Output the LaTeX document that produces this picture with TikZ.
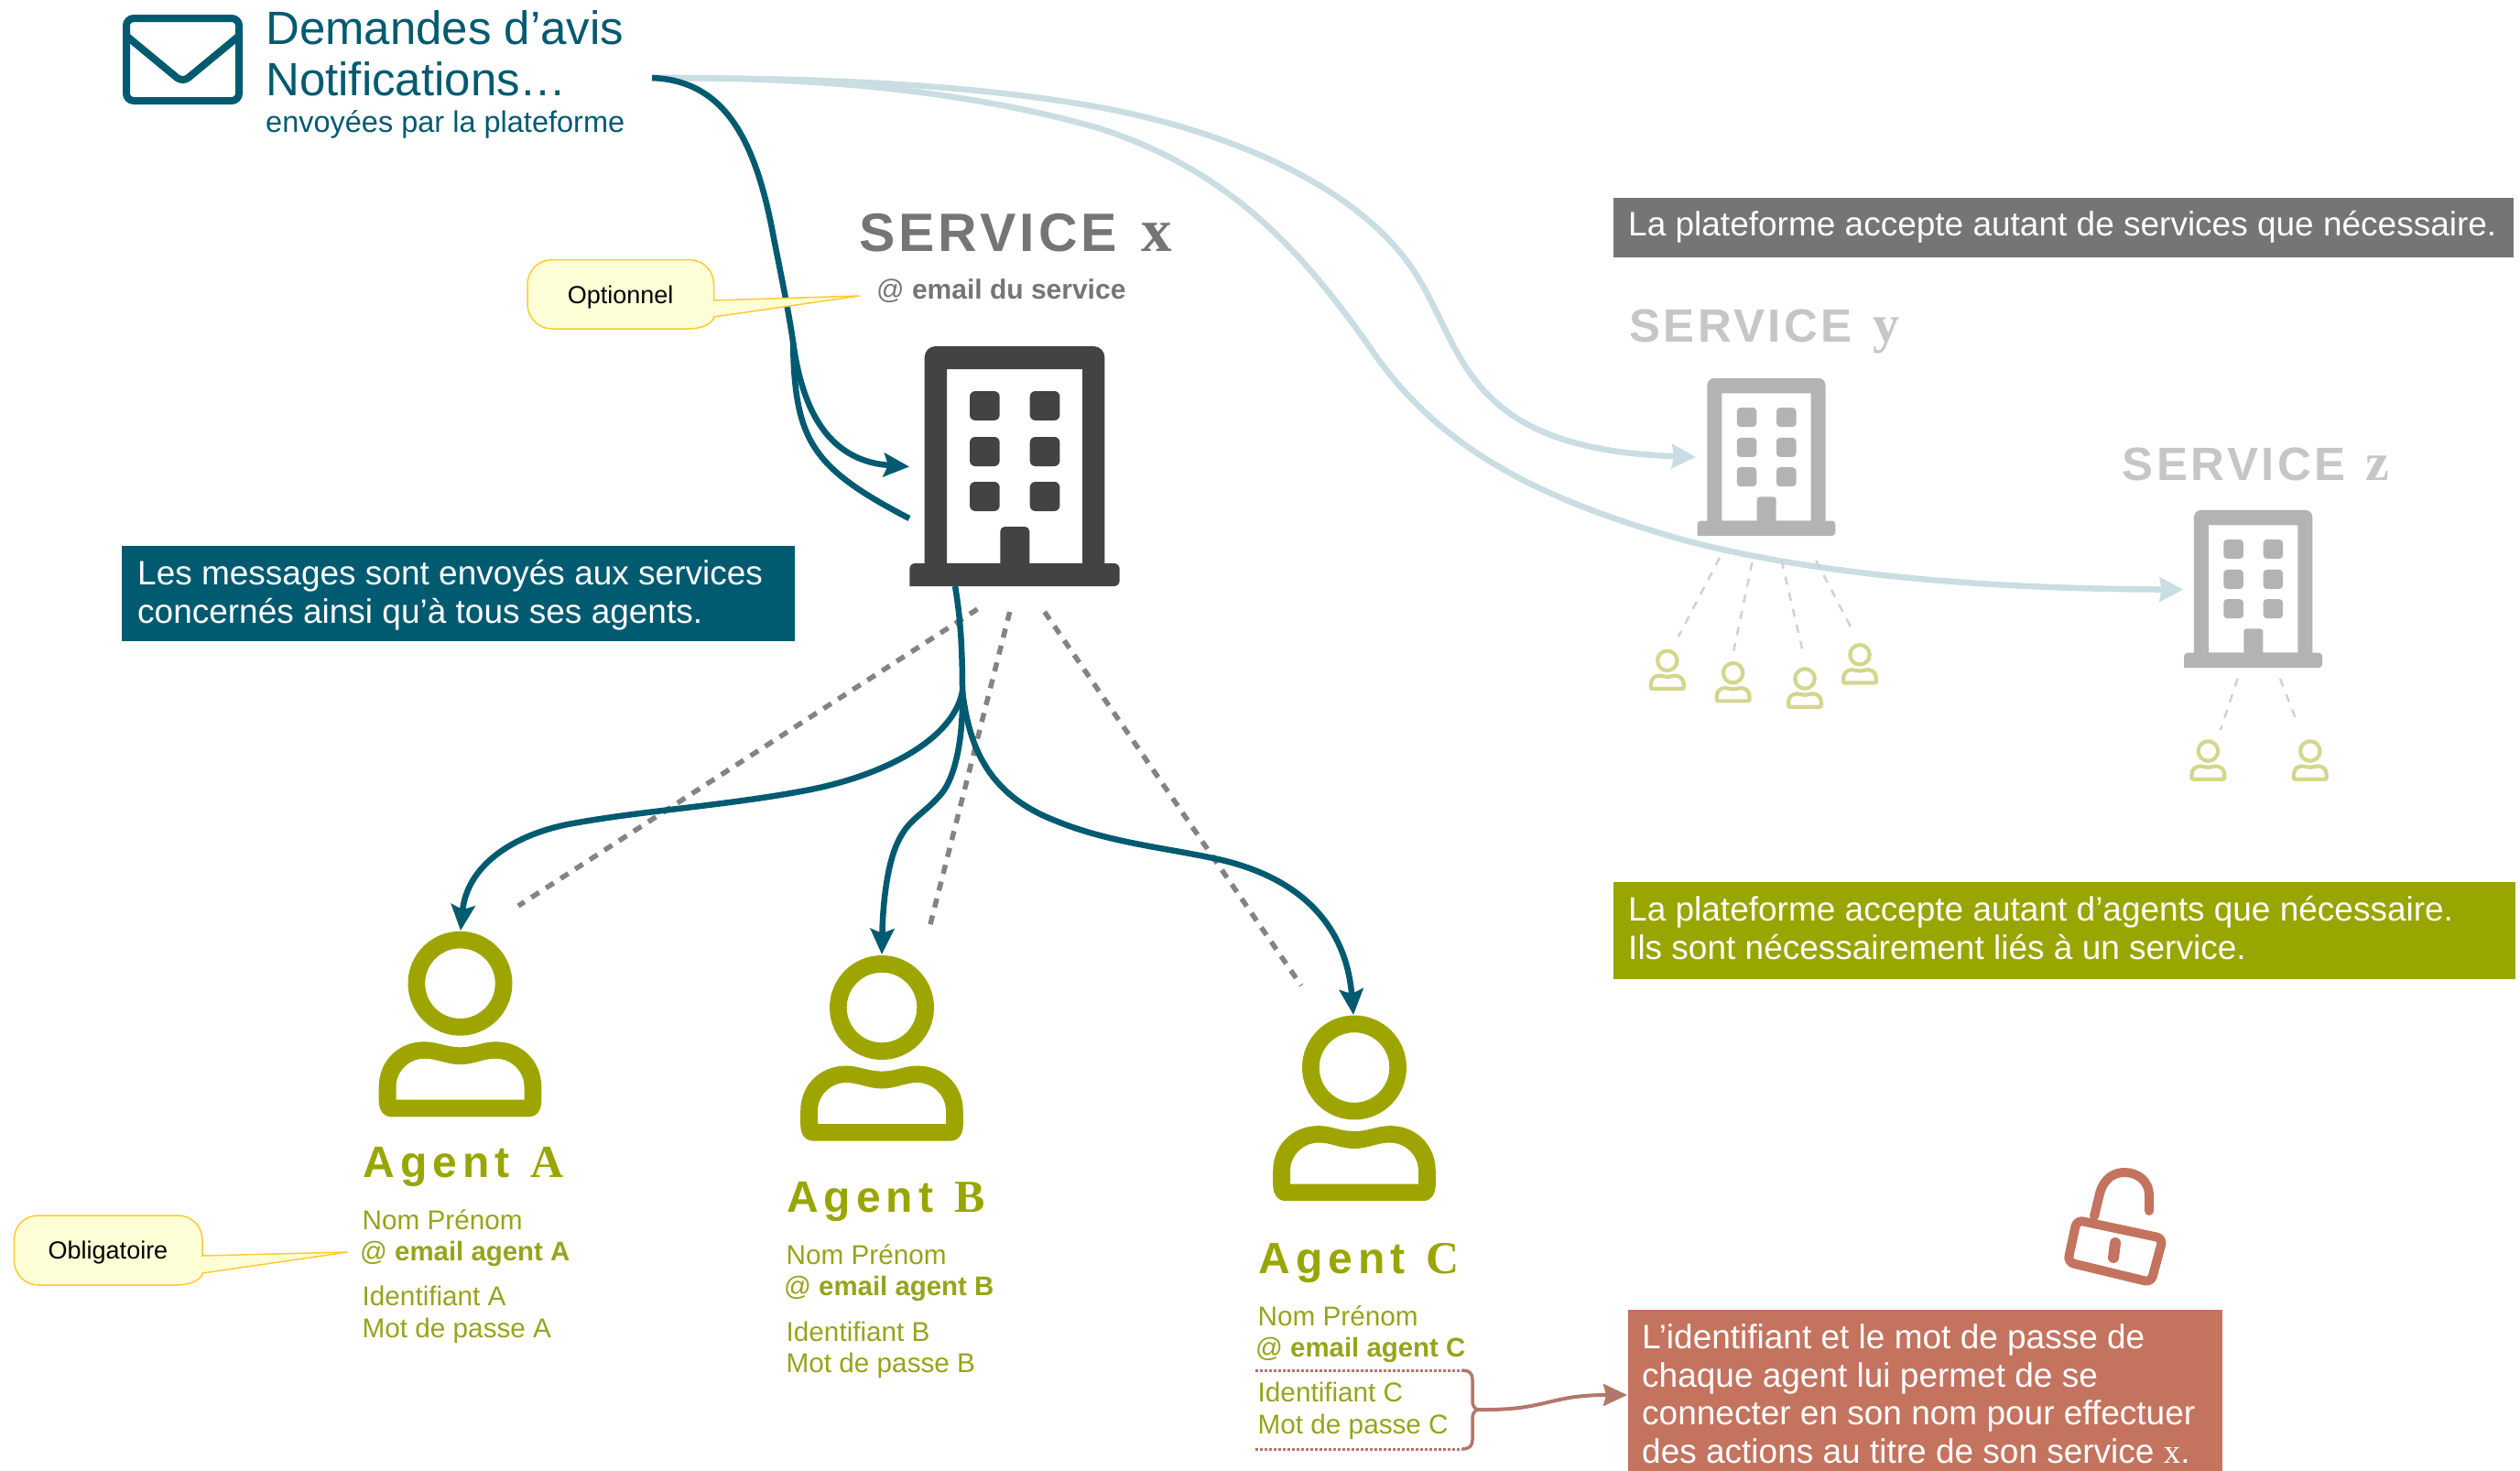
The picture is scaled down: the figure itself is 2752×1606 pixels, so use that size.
\documentclass[tikz,border=0pt]{standalone}
\usepackage{fontspec}
\usetikzlibrary{arrows.meta}
\setmainfont{Liberation Sans}
\newfontfamily\serifx{Liberation Serif}
\newfontfamily\spacedservice[LetterSpace=6.8]{Liberation Sans}
\newfontfamily\spacedagent[LetterSpace=12.5]{Liberation Sans}
\definecolor{teal1}{HTML}{005A70}
\definecolor{paleteal}{HTML}{C9DDE2}
\definecolor{graybox}{HTML}{757575}
\definecolor{darkbldg}{HTML}{434343}
\definecolor{palebldg}{HTML}{B3B3B3}
\definecolor{paletext}{HTML}{C6C6C6}
\definecolor{olivebox}{HTML}{99A500}
\definecolor{oliveicon}{HTML}{9FA500}
\definecolor{olivetext}{HTML}{97A31A}
\definecolor{paleolive}{HTML}{D3D68C}
\definecolor{salmon}{HTML}{C4735F}
\definecolor{bracecol}{HTML}{B4766A}
\definecolor{bubblefill}{HTML}{FFFFD7}
\definecolor{bubbleline}{HTML}{FFC933}
\newcommand{\fs}[1]{\fontsize{#1}{#1}\selectfont}
\newcommand{\buildingicon}[6]{%
\begin{scope}[shift={(#2,#3)},xscale=#4,yscale=#5]
\coordinate (#1) at (0,0);
\fill[#6,even odd rule,rounded corners=12*#4] (-98.3,-5) -- (-98.3,-262) -- (98.3,-262) -- (98.3,-5) -- cycle [sharp corners] (-74,-25) rectangle (74,-237);
\fill[#6,rounded corners=6*#4] (-114.7,0) -- (-114.7,-25) -- (114.7,-25) -- (114.7,0) [sharp corners] -- cycle;
\foreach \wx in {-49,16.7}{\foreach \wy in {-213,-163,-114}{%
\fill[#6,rounded corners=6*#4] (\wx,\wy) rectangle (\wx+32.7,\wy+32);}}
\fill[#6,rounded corners=5*#4] (-15.7,-20) -- (-15.7,-65) -- (16.3,-65) -- (16.3,-20) -- cycle;
\end{scope}}
\newcommand{\personicon}[5]{%
\begin{scope}[shift={(#2,#3)},scale=#4]
\coordinate (#1) at (0,0);
\fill[#5,even odd rule] (0,0) circle[radius=57] (0,0) circle[radius=38.3];
\fill[#5,even odd rule] (-75,145.6) .. controls (-84,145.6) and (-88.8,138) .. (-88.8,128) -- (-88.8,113) .. controls (-88.8,85) and (-68,63.6) .. (-39,63.6) .. controls (-25,63.6) and (-15,69.6) .. (0,69.6) .. controls (15,69.6) and (25,63.6) .. (39,63.6) .. controls (68,63.6) and (88.8,85) .. (88.8,113) -- (88.8,128) .. controls (88.8,138) and (84,145.6) .. (75,145.6) -- cycle
(-70,127) -- (-70,113) .. controls (-70,95) and (-55,82) .. (-39,82) .. controls (-25,82) and (-15,88.5) .. (0,88.5) .. controls (15,88.5) and (25,82) .. (39,82) .. controls (55,82) and (70,95) .. (70,113) -- (70,127) -- cycle;
\end{scope}}
\tikzset{
 txt/.style={inner sep=0pt,anchor=base west},
 bluetxt/.style={txt,text=teal1},
 olivetxt/.style={txt,text=olivetext,font=\fs{29.7}},
 olivemail/.style={txt,text=olivetext,font=\fs{29.4}},
 infobox/.style={anchor=north west,inner sep=0pt},
 infotxt/.style={txt,text=white,font=\fs{37}},
 tealline/.style={draw=teal1,line width=6.5pt},
 tealarrow/.style={tealline,-{Stealth[length=28pt,width=26pt,inset=5pt]}},
 palearrow/.style={draw=paleteal,line width=6.5pt,-{Stealth[length=26pt,width=26pt,inset=2pt]}},
 maindash/.style={draw=graybox!90,line width=5.5pt,dash pattern=on 10pt off 9pt},
 palesdash/.style={draw=black!18,line width=2.5pt,dash pattern=on 9pt off 9pt},
 bubble/.style={draw=bubbleline,fill=bubblefill,line width=1.5pt},
}
\begin{document}
\begin{tikzpicture}[x=1pt,y=-1pt]
\useasboundingbox (0,0) rectangle (2752,1606);
% envelope
\draw[teal1,line width=8pt,rounded corners=8pt] (138,20) rectangle (261,110);
\draw[teal1,line width=8pt,rounded corners=8pt] (139,40) -- (199.5,90) -- (260,40);
\node[bluetxt,font=\fs{51}] (title1) at (290,48) {Demandes d’avis};
\node[bluetxt,font=\fs{51}] (title2) at (290,104) {Notifications…};
\node[bluetxt,font=\fs{32.5}] (title3) at (290,144.5) {envoyées par la plateforme};
\coordinate (src) at (712,85);
\coordinate (joinx) at (866,373);
\coordinate (tipy) at (1852,499);
\coordinate (tipz) at (2384.6,643.6);
\coordinate (tipx) at (993,509.5);
\coordinate (endx) at (993,566);
\coordinate (bsrc) at (1043,640);
\coordinate (bjoin) at (1051,755);
\coordinate (tipA) at (503,1016);
\coordinate (tipB) at (963,1042);
\coordinate (tipC) at (1478,1108);
% pale arrows
\draw[palearrow] (src) .. controls (900,85) and (1060,92) .. (1200,117) .. controls (1350,145) and (1480,205) .. (1540,290) .. controls (1600,375) and (1590,490) .. (tipy);
\draw[palearrow] (src) .. controls (900,84) and (1060,100) .. (1200,140) .. controls (1340,185) and (1420,270) .. (1500,385) .. controls (1580,500) and (1700,550) .. (1840,590) .. controls (2000,632) and (2200,643) .. (tipz);
% buildings
\buildingicon{bx}{1108}{640}{1}{1}{darkbldg}
\buildingicon{by}{1929}{585}{.658}{.657}{palebldg}
\buildingicon{bz}{2460.6}{729}{.658}{.657}{palebldg}
% service labels
\node[txt,text=graybox,font=\fs{59}] (sx) at (938,274) {{\spacedservice\bfseries SERVICE}\hspace{26pt}{\serifx\bfseries\fs{67}x}};
\node[txt,text=graybox,font=\fs{30}] (sxmail) at (957,326) {@ \textbf{email du service}};
\node[txt,text=paletext,font=\fs{51}] (sy) at (1779,373) {{\spacedservice\bfseries SERVICE}\hspace{22pt}{\serifx\bfseries\fs{58}y}};
\node[txt,text=paletext,font=\fs{51}] (sz) at (2317.5,524) {{\spacedservice\bfseries SERVICE}\hspace{22pt}{\serifx\bfseries\fs{58}z}};
% teal curves
\draw[tealline] (src) .. controls (790,88) and (825,150) .. (845,260) .. controls (855,310) and (862,345) .. (joinx);
\draw[tealarrow] (joinx) .. controls (875,440) and (900,503) .. (tipx);
\draw[tealline] (joinx) .. controls (868,480) and (885,510) .. (endx);
% main dashed
\coordinate (dA0) at (1067.4,665); \coordinate (dA1) at (566,989);
\coordinate (dB0) at (1102.7,668); \coordinate (dB1) at (1015,1013);
\coordinate (dC0) at (1140.7,668); \coordinate (dC1) at (1421,1076);
\draw[maindash] (dA0) -- (dA1);
\draw[maindash] (dB0) -- (dB1);
\draw[maindash] (dC0) -- (dC1);
\draw[tealline] (bsrc) .. controls (1050,680) and (1051,720) .. (bjoin);
\draw[tealarrow] (bjoin) .. controls (1040,810) and (960,848) .. (880,863) .. controls (790,880) and (700,885) .. (620,900) .. controls (560,912) and (510,945) .. (tipA);
\draw[tealarrow] (bjoin) .. controls (1052,800) and (1045,850) .. (1025,870) .. controls (1005,892) and (990,895) .. (978,925) .. controls (968,950) and (964,990) .. (tipB);
\draw[tealarrow] (bjoin) .. controls (1058,810) and (1075,865) .. (1150,895) .. controls (1210,920) and (1270,925) .. (1330,938) .. controls (1420,958) and (1470,1010) .. (tipC);
% agents
\personicon{pA}{502.5}{1073.7}{1}{oliveicon}
\personicon{pB}{963}{1100}{1}{oliveicon}
\personicon{pC}{1479}{1165.5}{1}{oliveicon}
\node[txt,text=olivebox,font=\fs{48}] (aA) at (396.5,1285) {{\spacedagent\bfseries Agent}\hspace{23pt}{\serifx\bfseries\fs{50}A}};
\node[txt,text=olivebox,font=\fs{48}] (aB) at (859,1323) {{\spacedagent\bfseries Agent}\hspace{23pt}{\serifx\bfseries\fs{50}B}};
\node[txt,text=olivebox,font=\fs{48}] (aC) at (1374.5,1390) {{\spacedagent\bfseries Agent}\hspace{23pt}{\serifx\bfseries\fs{50}C}};
\node[olivetxt] (nA) at (395.5,1342.5) {Nom Prénom};
\node[olivemail] (mA) at (393,1376) {@ \textbf{email agent A}};
\node[olivetxt] (iA) at (395.5,1425) {Identifiant A};
\node[olivetxt] (pwA) at (395.5,1460) {Mot de passe A};
\node[olivetxt] (nB) at (858.5,1380) {Nom Prénom};
\node[olivemail] (mB) at (856,1414) {@ \textbf{email agent B}};
\node[olivetxt] (iB) at (858.5,1464) {Identifiant B};
\node[olivetxt] (pwB) at (858.5,1498) {Mot de passe B};
\node[olivetxt] (nC) at (1373.5,1447.5) {Nom Prénom};
\node[olivemail] (mC) at (1371,1481) {@ \textbf{email agent C}};
\node[olivetxt] (iC) at (1373.5,1530) {Identifiant C};
\node[olivetxt] (pwC) at (1373.5,1565) {Mot de passe C};
% pale dashes and persons
\coordinate (y1a) at (1877.9,609); \coordinate (y1b) at (1832.9,695);
\coordinate (y2a) at (1913.4,614); \coordinate (y2b) at (1893.3,710.5);
\coordinate (y3a) at (1945.6,612); \coordinate (y3b) at (1969.8,716);
\coordinate (y4a) at (1983.2,612); \coordinate (y4b) at (2023.5,689);
\coordinate (z1a) at (2443.6,741); \coordinate (z1b) at (2424.8,797);
\coordinate (z2a) at (2490,741); \coordinate (z2b) at (2508.7,789);
\draw[palesdash] (y1a) -- (y1b);
\draw[palesdash] (y2a) -- (y2b);
\draw[palesdash] (y3a) -- (y3b);
\draw[palesdash] (y4a) -- (y4b);
\draw[palesdash] (z1a) -- (z1b);
\draw[palesdash] (z2a) -- (z2b);
\personicon{py1}{1820.8}{721.3}{.225}{paleolive}
\personicon{py2}{1892.6}{734.7}{.225}{paleolive}
\personicon{py3}{1971}{741}{.225}{paleolive}
\personicon{py4}{2031}{714.8}{.225}{paleolive}
\personicon{pz1}{2411.4}{820}{.225}{paleolive}
\personicon{pz2}{2522.8}{820}{.225}{paleolive}
% bubbles
\draw[bubble] (938.6,323) -- (779.5,328) -- (779.5,311) .. controls (779.5,295) and (768,283.6) .. (752,283.6) -- (603,283.6) .. controls (588,283.6) and (576,295) .. (576,311) -- (576,332) .. controls (576,347) and (588,359) .. (603,359) -- (752,359) .. controls (768,359) and (779.5,352) .. (779.5,346) -- cycle;
\node[inner sep=0pt,font=\fs{27}] (opt) at (677.6,325) {Optionnel};
\draw[bubble] (379.6,1367) -- (221,1371) -- (221,1354) .. controls (221,1338) and (209,1327) .. (194,1327) -- (42,1327) .. controls (27,1327) and (15.4,1338) .. (15.4,1354) -- (15.4,1376) .. controls (15.4,1391) and (27,1403) .. (42,1403) -- (194,1403) .. controls (209,1403) and (221,1396) .. (221,1390) -- cycle;
\node[inner sep=0pt,font=\fs{27}] (obl) at (118,1368) {Obligatoire};
% info boxes
\node[infobox,fill=teal1,minimum width=735pt,minimum height=104pt] (msgbox) at (133,596) {};
\node[infotxt] (m1) at (150,638.5) {Les messages sont envoyés aux services};
\node[infotxt] (m2) at (150,680.5) {concernés ainsi qu’à tous ses agents.};
\node[infobox,fill=graybox,minimum width=983pt,minimum height=65pt] (svcbox) at (1762,216) {};
\node[infotxt] (s1) at (1778,257.5) {La plateforme accepte autant de services que nécessaire.};
\node[infobox,fill=olivebox,minimum width=985pt,minimum height=106pt] (agtbox) at (1762,963) {};
\node[infotxt] (a1) at (1778,1005) {La plateforme accepte autant d’agents que nécessaire.};
\node[infotxt] (a2) at (1778,1047) {Ils sont nécessairement liés à un service.};
\node[infobox,fill=salmon,minimum width=649pt,minimum height=176pt] (redbox) at (1778,1430) {};
\node[infotxt] (r1) at (1793,1472) {L’identifiant et le mot de passe de};
\node[infotxt] (r2) at (1793,1514) {chaque agent lui permet de se};
\node[infotxt] (r3) at (1793,1555) {connecter en son nom pour effectuer};
\node[infotxt] (r4) at (1793,1597) {des actions au titre de son service {\serifx x}.};
% brace
\coordinate (dot1) at (1371,1496); \coordinate (dot1b) at (1597,1496);
\coordinate (dot2) at (1371,1582); \coordinate (dot2b) at (1597,1582);
\coordinate (bracetip) at (1615,1539);
\coordinate (arrtip) at (1777,1523);
\draw[bracecol,line width=3pt,dash pattern=on 2.5pt off 2.5pt] (dot1) -- (dot1b);
\draw[bracecol,line width=3pt,dash pattern=on 2.5pt off 2.5pt] (dot2) -- (dot2b);
\draw[bracecol,line width=3.5pt] (dot1b) .. controls (1604,1496) and (1608,1499) .. (1608,1506) -- (1608,1530) .. controls (1608,1535) and (1611,1539) .. (bracetip) .. controls (1611,1539) and (1608,1543) .. (1608,1548) -- (1608,1572) .. controls (1608,1579) and (1604,1582) .. (dot2b);
\draw[bracecol,line width=4pt,-{Stealth[length=26pt,width=24pt,inset=3pt]}] (bracetip) .. controls (1690,1540) and (1690,1523) .. (arrtip);
% lock
\draw[salmon,line width=10pt,line join=round,rounded corners=7pt] (2268,1332) -- (2362,1352) -- (2349,1400) -- (2258,1378) -- cycle;
\draw[salmon,line width=10pt,line cap=round] (2287,1328) -- (2293,1303) .. controls (2298,1285) and (2310,1280) .. (2320,1280) .. controls (2335,1280) and (2347,1290) .. (2347,1305) -- (2347,1322);
\draw[salmon,line width=12pt,line cap=round] (2310,1357) -- (2308,1373);
\end{tikzpicture}
\end{document}
